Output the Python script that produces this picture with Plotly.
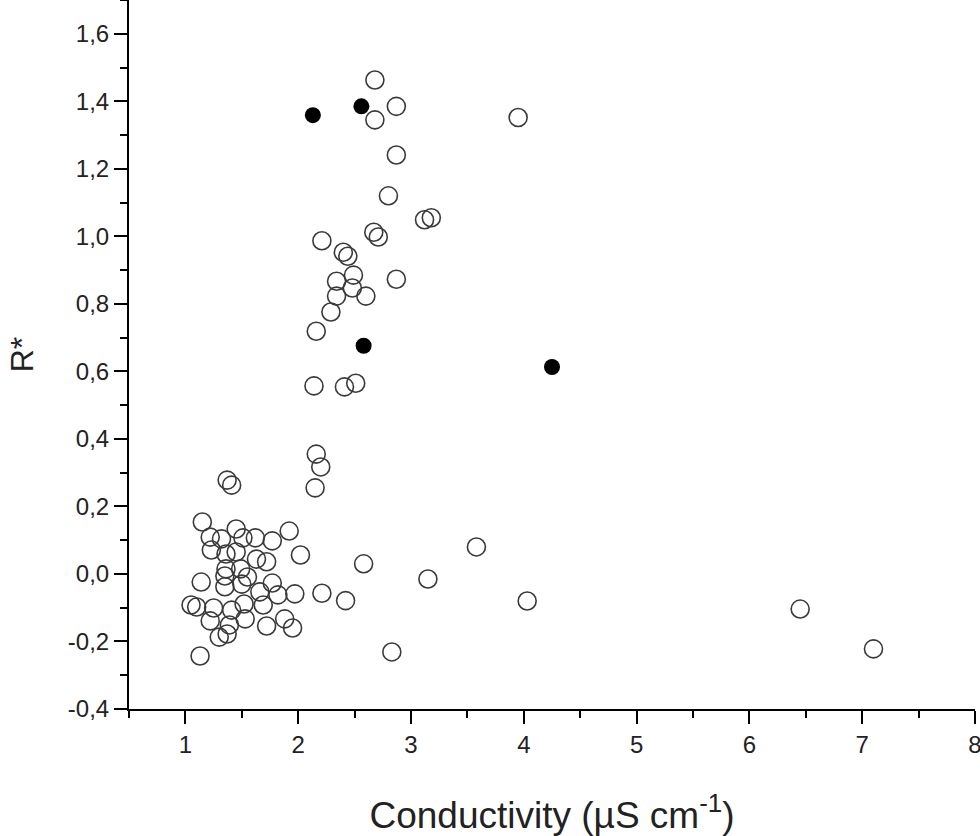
import plotly.graph_objects as go

# open circles (conductivity, R*)
open_x = [2.68, 2.87, 2.68, 3.95, 2.87, 2.80, 3.12, 3.18, 2.21, 2.67, 2.71,
          2.40, 2.44, 2.49, 2.34, 2.48, 2.34, 2.60, 2.29, 2.87, 2.16, 2.14,
          2.41, 2.51, 2.16, 2.20, 2.15, 1.37, 1.41,
          1.15, 1.22, 1.32, 1.45, 1.51, 1.62, 1.77, 1.92, 1.23, 1.36, 1.45,
          1.63, 1.72, 2.02, 1.36, 1.49, 1.35, 1.14, 1.35, 1.50, 1.77, 1.66,
          1.82, 1.97, 1.10, 1.25, 1.41, 1.52, 1.69, 1.22, 1.39, 1.53, 1.72,
          1.88, 1.95, 1.30, 1.37, 1.13, 1.55, 1.05,
          2.21, 2.42, 2.58, 3.58, 3.15, 4.03, 2.83, 6.45, 7.10]
open_y = [1.463, 1.385, 1.345, 1.352, 1.241, 1.120, 1.049, 1.055, 0.987, 1.012, 0.998,
          0.953, 0.941, 0.885, 0.867, 0.847, 0.823, 0.823, 0.776, 0.873, 0.719, 0.557,
          0.554, 0.565, 0.355, 0.317, 0.255, 0.278, 0.263,
          0.154, 0.109, 0.104, 0.133, 0.107, 0.107, 0.098, 0.127, 0.071, 0.059, 0.065,
          0.044, 0.036, 0.056, 0.015, 0.015, -0.006, -0.024, -0.038, -0.030, -0.027, -0.053,
          -0.062, -0.059, -0.098, -0.101, -0.107, -0.089, -0.092, -0.139, -0.151, -0.133, -0.154,
          -0.133, -0.160, -0.187, -0.178, -0.243, -0.009, -0.092,
          -0.057, -0.079, 0.030, 0.080, -0.015, -0.080, -0.231, -0.104, -0.222]

# filled circles
filled_x = [2.13, 2.56, 2.58, 4.25]
filled_y = [1.359, 1.385, 0.676, 0.613]

x_ticks = [1, 2, 3, 4, 5, 6, 7, 8]
y_ticks = [-0.4, -0.2, 0.0, 0.2, 0.4, 0.6, 0.8, 1.0, 1.2, 1.4, 1.6]
y_labels = ["-0,4", "-0,2", "0,0", "0,2", "0,4", "0,6", "0,8", "1,0", "1,2", "1,4", "1,6"]

fig = go.Figure()
fig.add_trace(go.Scatter(x=open_x, y=open_y, mode='markers', cliponaxis=False,
                         marker=dict(symbol='circle-open', size=18, color='#3a3a3a',
                                     line=dict(width=1.6, color='#3a3a3a'))))
fig.add_trace(go.Scatter(x=filled_x, y=filled_y, mode='markers', cliponaxis=False,
                         marker=dict(symbol='circle', size=16, color='black')))

font = "Liberation Sans, Arial, sans-serif"
fig.update_layout(
    width=980, height=836,
    margin=dict(l=129, r=5, t=0, b=127),
    plot_bgcolor='white', paper_bgcolor='white',
    showlegend=False,
    font=dict(family=font, size=24, color='#222'),
)
fig.update_xaxes(
    range=[0.5, 8], tickmode='array', tickvals=x_ticks,
    ticks='outside', ticklen=13, tickwidth=2, tickcolor='black',
    minor=dict(tickmode='linear', tick0=0.5, dtick=0.5, ticks='outside', ticklen=7, tickwidth=2, tickcolor='black'),
    showline=True, linecolor='black', linewidth=2, showgrid=False, zeroline=False,
    automargin=False, ticklabeloverflow='allow',
    title=dict(text='Conductivity (µS cm<sup>-1</sup>)', font=dict(size=37), standoff=45),
)
fig.update_yaxes(
    range=[-0.4, 1.7], tickmode='array', tickvals=y_ticks, ticktext=y_labels,
    ticks='outside', ticklen=13, tickwidth=2, tickcolor='black',
    minor=dict(tickmode='linear', tick0=-0.4, dtick=0.1, ticks='outside', ticklen=7, tickwidth=2, tickcolor='black'),
    showline=True, linecolor='black', linewidth=2, showgrid=False, zeroline=False,
    automargin=False, ticklabeloverflow='allow',
    title=dict(text='R*', font=dict(size=32), standoff=25),
)

# page body has a default 8px margin; remove it so the figure sits at the corner
fig.write_html("out.html", config={'displayModeBar': False},
               post_script="document.body.style.margin='0';")
